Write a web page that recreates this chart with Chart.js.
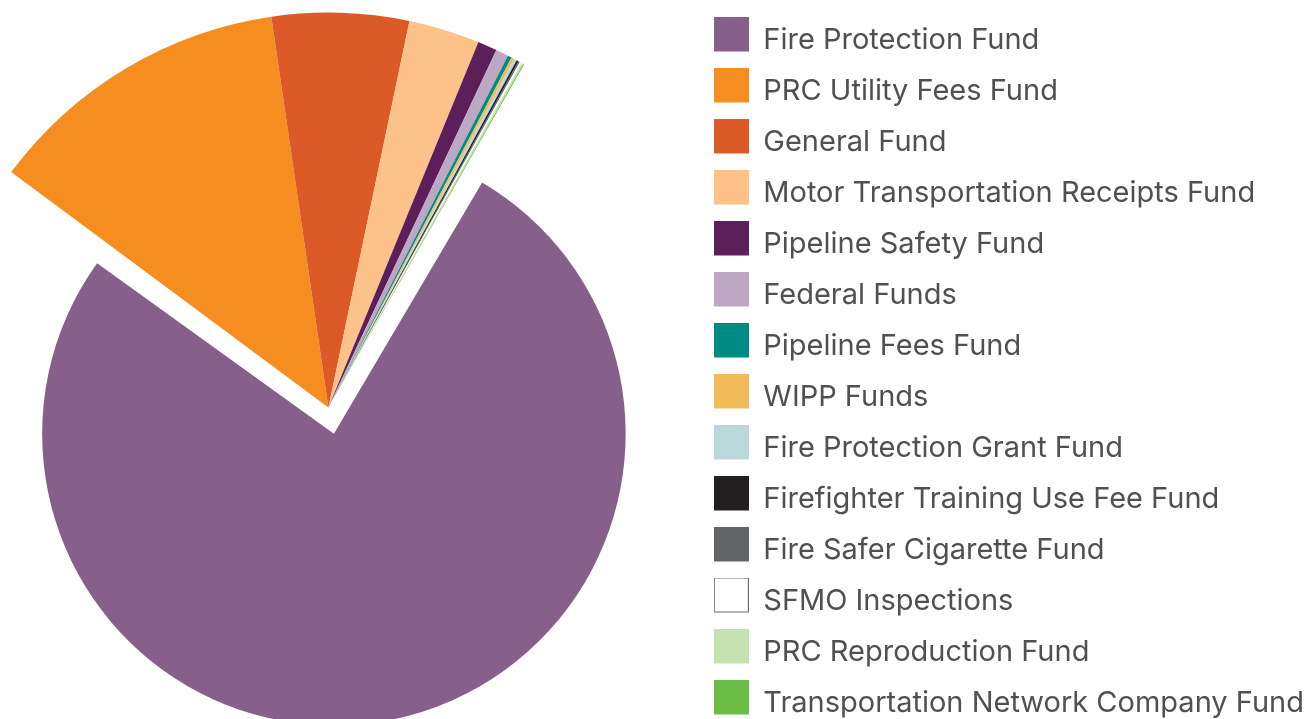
<!DOCTYPE html>
<html>
<head>
<meta charset="utf-8">
<script src="https://cdn.jsdelivr.net/npm/chart.js@4/dist/chart.umd.min.js"></script>
<style>
    html, body { margin: 0; padding: 0; background: #fff; overflow: hidden; }
    body { width: 1304px; height: 719px; position: relative; }
    #wrap { position: absolute; left: -35px; top: 0; width: 1349px; height: 811px; }
</style>
</head>
<body>
<div id="wrap"><canvas id="fundPie"></canvas></div>
<script>
// share of budget by fund, in percent
var fundNames = [
    "Fire Protection Fund",
    "PRC Utility Fees Fund",
    "General Fund",
    "Motor Transportation Receipts Fund",
    "Pipeline Safety Fund",
    "Federal Funds",
    "Pipeline Fees Fund",
    "WIPP Funds",
    "Fire Protection Grant Fund",
    "Firefighter Training Use Fee Fund",
    "Fire Safer Cigarette Fund",
    "SFMO Inspections",
    "PRC Reproduction Fund",
    "Transportation Network Company Fund"
];
var fundShares = [76.92, 12.53, 5.60, 2.91, 0.79, 0.52, 0.16, 0.12, 0.12, 0.08, 0.06, 0.08, 0.08, 0.04];
var fundColors = [
    "#86608a", "#f58d21", "#dc5a28", "#fcc289", "#5c1f5a", "#bca7c4", "#008b84",
    "#f3ba5a", "#bad8d9", "#231f20", "#636466", "#ffffff", "#c5e2b1", "#6bbd45"
];
// chart.js moves an exploded arc by offset/4 and grows it by the same amount
var sliceOffsets = [107, 0, 0, 0, 0, 0, 0, 0, 0, 0, 0, 0, 0, 0];

// legend swatch: square sits a bit above the text middle, like the original
function makeSwatch(color, outlined) {
    var c = document.createElement("canvas");
    c.width = 35;
    c.height = 48;
    var g = c.getContext("2d");
    g.fillStyle = color;
    g.fillRect(0, 0, 35, 35);
    if (outlined) {
        g.strokeStyle = "#6d6e71";
        g.lineWidth = 1;
        g.strokeRect(0.5, 0.5, 34, 34);
    }
    return c;
}

// the exploded Fire Protection slice is drawn with a smaller radius
var smallFirstSlice = {
    id: "smallFirstSlice",
    beforeDatasetDraw: function (chart, args, opts) {
        var arc = args.meta.data[0];
        if (arc) arc.outerRadius = opts.radius;
    }
};

var baseLabels = Chart.overrides.doughnut.plugins.legend.labels.generateLabels;

var config = {
    type: "pie",
    data: {
        labels: fundNames,
        datasets: [{
            data: fundShares,
            backgroundColor: fundColors,
            borderWidth: 0,
            offset: sliceOffsets
        }]
    },
    options: {
        responsive: true,
        maintainAspectRatio: false,
        animation: false,
        events: [],
        rotation: 29.7,
        radius: 395,
        layout: {
            padding: { top: 4, left: 0, right: 0, bottom: 0 }
        },
        plugins: {
            smallFirstSlice: { radius: 265 },
            tooltip: { enabled: false },
            title: { display: false },
            legend: {
                position: "right",
                align: "start",
                labels: {
                    usePointStyle: true,
                    pointStyleWidth: 35,
                    padding: 22,
                    color: "#505050",
                    font: { family: "Inter", size: 29 },
                    generateLabels: function (chart) {
                        return baseLabels(chart).map(function (item, i) {
                            item.pointStyle = makeSwatch(fundColors[i], fundColors[i] === "#ffffff");
                            return item;
                        });
                    }
                }
            }
        }
    },
    plugins: [smallFirstSlice]
};

var ctx = document.getElementById("fundPie").getContext("2d");
var fundChart = new Chart(ctx, config);
</script>
</body>
</html>
